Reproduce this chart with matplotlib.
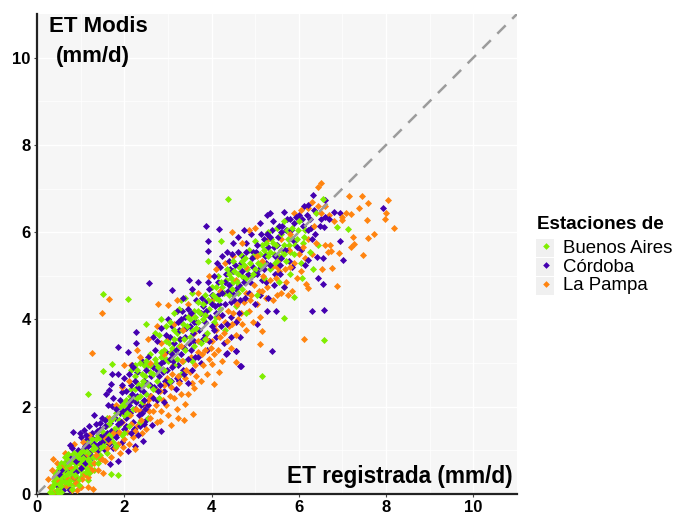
import matplotlib
matplotlib.use('Agg')
import matplotlib.pyplot as plt
from matplotlib.patches import Rectangle

# (ET registrada, ET Modis), mm/d
buenos_aires = [
    (1.51,4.58),(2.09,4.47),(1.18,2.30),(1.73,2.99),(1.51,2.81),(5.16,2.71),(1.86,.44),(1.69,.45),(1.18,.31),(2.50,3.89),
    (4.37,6.77),(5.67,4.04),(6.57,3.52),(3.91,5.34),(4.21,5.79),(7.12,6.07),(6.87,6.13),(6.32,5.15),(6.08,4.95),(5.89,4.51),
    (5.65,4.75),(6.45,5.71),(.30,.05),(.35,.15),(.40,.30),(.45,.10),(.50,.22),(.52,.40),(.55,.05),(.58,.30),
    (.60,.52),(.62,.15),(.65,.38),(.68,.62),(.70,.25),(.72,.48),(.75,.10),(.78,.35),(.80,.58),(.82,.75),
    (.85,.22),(.88,.44),(.90,.68),(.92,.88),(.95,.32),(.98,.55),(1.00,.78),(1.02,.98),(1.05,.45),(1.08,.65),
    (1.10,.85),(1.12,1.08),(1.15,.58),(1.20,.75),(.55,.70),(.48,.55),(.42,.48),(.65,.85),(.75,.70),(.85,.95),
    (1.25,1.00),(1.30,.55),(1.35,1.25),(1.40,.70),(1.45,1.05),(1.50,1.45),(1.55,1.20),(1.60,.95),(1.65,1.60),(1.70,1.30),
    (1.75,1.75),(1.80,1.10),(1.85,1.55),(1.90,2.00),(1.95,1.35),(2.00,1.80),(2.05,2.15),(2.10,1.55),(2.15,2.40),(2.20,1.95),
    (2.25,2.70),(2.30,2.20),(2.35,1.65),(2.40,2.50),(2.45,2.95),(2.50,2.30),(2.55,1.75),(2.60,2.80),(2.65,2.40),(2.70,3.10),
    (2.15,2.85),(2.25,2.95),(2.30,2.85),(2.35,3.00),(2.40,2.75),(2.50,3.05),(2.55,2.95),(2.60,3.20),(2.75,2.60),(2.80,2.20),
    (2.85,3.25),(2.90,2.85),(2.95,3.50),(3.00,3.05),(3.05,2.60),(3.10,3.35),(3.15,3.75),(3.20,3.10),(3.25,3.55),(3.30,2.75),
    (3.35,3.90),(3.40,3.30),(3.45,4.05),(3.50,3.60),(3.55,3.05),(3.60,4.20),(3.65,3.80),(3.70,4.40),(3.75,3.45),(3.80,4.00),
    (2.80,3.65),(2.70,3.70),(2.95,3.85),(3.05,3.95),(2.85,4.00),(3.15,4.15),(3.25,4.25),(3.30,4.45),(3.40,4.50),(3.55,4.60),
    (3.85,4.55),(3.90,3.70),(3.95,4.25),(4.00,4.75),(4.05,3.95),(4.10,4.50),(4.15,5.00),(4.20,4.25),(4.25,4.75),(4.30,3.75),
    (4.35,5.15),(4.40,4.55),(4.45,4.95),(4.50,5.35),(4.55,4.30),(4.60,5.05),(4.65,5.50),(4.70,4.70),(4.75,5.25),(4.80,4.15),
    (4.85,5.60),(4.90,5.00),(4.95,5.45),(5.00,5.80),(5.05,4.55),(5.10,5.25),(5.15,5.70),(5.20,4.95),(5.25,5.50),(5.30,6.00),
    (5.35,5.15),(5.40,5.75),(5.45,5.30),(5.50,6.10),(5.55,4.85),(5.60,5.60),(5.65,6.25),(5.70,5.35),(5.75,5.85),(5.80,5.05),
    (5.85,6.10),(5.90,5.50),(5.95,5.85),(6.00,6.25),(6.05,5.30),(6.10,5.75),(6.15,6.05),(6.25,5.55),(6.40,6.45),(6.55,6.75),
    (4.50,4.85),(4.60,4.60),(4.80,4.95),(4.70,5.35),(5.00,5.15),(5.20,5.60),(5.35,5.55),(5.50,5.35),(5.65,5.70),(5.80,5.55),
    (3.70,3.95),(3.85,3.55),(4.10,4.05),(3.60,3.40),(3.35,3.05),(3.15,2.95),(2.40,2.10),(2.00,1.40),(1.75,1.20),(1.60,1.75),
    (.38,.22),(.44,.42),(.50,.62),(.56,.18),(.60,.40),(.66,.55),(.70,.78),(.74,.30),(.78,.50),(.82,.92),
    (.86,.62),(.90,.40),(.94,.74),(.98,.95),(1.02,.62),(1.06,.82),(1.10,1.02),(1.14,.72),(1.18,.95),(1.22,1.15),
    (1.28,1.10),(1.34,1.05),(1.40,1.35),(1.46,1.25),(1.52,1.10),(1.58,1.55),(1.64,1.35),(1.70,1.70),(1.76,1.50),(1.82,1.85),
    (1.88,1.70),(1.94,2.10),(2.00,2.05),(2.06,1.85),(2.12,2.25),(2.18,2.15),(2.24,2.40),(2.30,2.55),(2.36,2.25),(2.42,2.60),
    (2.48,2.70),(2.54,2.50),(2.60,2.95),(2.66,2.75),(2.72,3.00),(2.78,2.90),(2.84,3.15),(2.90,3.30),(2.96,3.10),(3.02,3.45),
    (3.08,3.25),(3.14,3.55),(3.20,3.70),(3.26,3.40),(3.32,3.75),(3.38,3.55),(3.44,3.85),(3.50,4.00),(3.56,3.75),(3.62,4.05),
    (3.68,4.20),(3.74,4.15),(3.80,4.35),(3.86,4.10),(3.92,4.45),(3.98,4.40),(4.04,4.55),(4.10,4.75),(4.16,4.45),(4.22,4.85),
    (4.28,4.60),(4.34,4.90),(4.40,5.05),(4.46,4.70),(4.52,5.10),(4.58,4.85),(4.64,5.20),(4.70,5.00),(4.76,5.40),(4.82,5.15),
    (4.88,5.30),(4.94,5.05),(5.00,5.45),(5.06,5.30),(5.12,5.50),(5.18,5.30),(5.24,5.75),(5.30,5.45),(5.36,5.85),(5.42,5.50),
    (5.48,5.70),(5.54,5.45),(5.60,5.95),(5.66,5.50),(5.72,6.05),(5.78,5.70),(5.84,5.85),(5.92,5.70),(5.98,6.05),(6.12,5.90),
    (.46,.30),(.54,.48),(.58,.12),(.64,.28),(.68,.45),(.72,.68),(.76,.22),(.80,.42),(.84,.82),(.88,.30),
    (.92,.52),(.96,.20),(1.00,.38),(1.04,.72),(1.08,.92),(1.12,.50),(1.16,.80),(1.20,.48),(1.24,.68),(1.28,.85),
    (.62,.70),(.70,.92),(.80,.12),(.95,.85),(1.15,1.18),(1.25,1.25),(1.35,.85),(1.45,.90),(.34,.02),(.48,.02),
]

cordoba = [
    (2.57,4.84),(3.10,4.67),(2.26,3.72),(2.28,3.47),(1.85,3.38),(2.09,3.26),(2.17,2.95),(1.85,2.76),(1.73,2.74),(1.69,2.52),
    (1.66,2.38),(1.59,2.29),(1.94,2.34),(1.62,2.04),(1.71,2.02),(1.31,1.82),(1.44,1.62),(.83,1.43),(.98,1.40),(1.08,1.47),
    (2.84,1.44),(2.64,1.58),(2.43,1.22),(2.32,1.35),(2.08,.99),(1.86,.75),(1.67,.68),(.76,.09),(.76,1.12),(4.34,3.21),
    (4.55,3.27),(4.66,2.94),(4.65,3.60),(5.05,3.89),(4.44,3.60),(6.32,6.85),(6.61,6.73),(7.94,6.55),(3.88,6.14),(4.17,6.08),
    (3.91,5.80),(3.93,5.58),(6.94,5.80),(7.01,5.37),(6.45,4.96),(6.56,4.82),(6.30,4.20),(6.58,4.21),(5.47,4.20),(5.27,4.20),
    (5.38,3.28),(4.68,2.93),(4.56,3.28),(4.35,3.23),(3.48,4.90),(5.27,6.40),(5.34,6.45),(5.66,6.46),(6.11,6.61),(6.21,6.63),
    (6.95,6.44),(6.80,6.47),(6.57,6.11),(6.22,6.05),(6.41,5.43),(6.20,5.37),(.45,.20),(.60,.35),(.70,.50),(.55,.55),
    (.85,.40),(.90,.75),(.75,.85),(.65,.70),(.95,1.00),(.80,1.05),(1.05,.85),(1.10,1.10),(1.15,1.25),(1.00,1.30),
    (1.20,.95),(1.25,1.40),(1.30,1.15),(1.35,1.05),(1.40,1.30),(1.45,1.50),(1.50,1.20),(1.55,1.70),(1.60,1.40),(1.35,1.60),
    (1.50,1.75),(1.65,1.15),(1.70,1.45),(1.75,1.05),(1.80,1.30),(1.85,1.60),(1.90,1.85),(1.95,1.20),(2.00,1.50),(2.05,1.75),
    (2.10,2.05),(2.15,1.40),(2.20,1.65),(2.25,1.95),(2.30,2.25),(2.35,1.55),(2.40,1.85),(2.45,2.15),(2.50,1.70),(2.55,2.05),
    (1.75,2.20),(1.80,1.95),(1.90,2.15),(1.95,2.50),(2.00,2.65),(2.05,2.35),(2.10,2.75),(2.15,2.50),(2.20,2.90),(2.25,2.60),
    (2.30,2.80),(2.35,2.40),(2.40,3.05),(2.45,2.60),(2.50,2.85),(2.55,3.15),(2.60,2.50),(2.65,2.90),(2.70,3.30),(2.75,2.15),
    (2.80,2.70),(2.85,3.00),(2.90,2.35),(2.95,3.25),(3.00,2.55),(3.05,3.60),(3.10,2.90),(3.15,3.45),(3.20,2.65),(3.25,3.75),
    (2.65,3.60),(2.75,3.50),(2.85,3.80),(2.95,3.65),(3.00,4.00),(3.10,3.85),(3.20,4.20),(3.30,4.00),(3.35,4.50),(3.45,4.25),
    (3.30,3.20),(3.35,2.85),(3.40,3.60),(3.45,3.10),(3.50,3.85),(3.55,2.85),(3.60,3.50),(3.65,4.45),(3.70,3.15),(3.75,4.15),
    (3.55,4.70),(3.70,4.85),(3.80,3.55),(3.85,4.40),(3.90,3.30),(3.95,4.70),(4.00,3.85),(4.05,5.00),(4.10,3.60),(4.15,4.55),
    (4.20,5.20),(4.25,4.10),(4.30,4.85),(4.35,3.90),(4.40,5.35),(4.45,4.40),(4.50,5.10),(4.55,3.95),(4.60,5.55),(4.65,4.45),
    (4.25,5.45),(4.35,5.55),(4.50,5.75),(4.60,5.90),(4.75,6.05),(4.70,5.10),(4.80,5.75),(4.85,4.60),(4.90,5.95),(4.95,5.20),
    (5.00,4.35),(5.05,5.70),(5.10,6.20),(5.15,4.90),(5.20,5.85),(5.25,5.30),(5.30,4.50),(5.35,5.90),(5.40,6.25),(5.45,5.05),
    (5.50,5.70),(5.55,6.15),(5.60,5.40),(5.65,4.75),(5.70,6.05),(5.75,5.60),(5.80,6.30),(5.85,5.20),(5.90,6.20),(5.95,5.65),
    (6.00,6.40),(6.05,5.60),(6.10,6.15),(6.15,5.25),(6.25,6.30),(6.30,5.85),(6.35,6.50),(6.50,6.30),(6.55,5.40),(6.70,6.30),
    (3.40,4.05),(3.10,3.20),(2.90,3.05),(3.60,3.95),(3.80,4.30),(4.00,4.35),(4.10,4.15),(4.30,4.35),(4.55,4.70),(4.75,4.85),
    (5.05,5.05),(5.20,5.15),(5.45,5.45),(5.60,6.00),(5.30,5.65),(4.95,5.55),(4.70,5.45),(4.40,4.80),(1.10,.70),(.90,.50),
    (.70,.15),(1.25,.85),(1.40,1.00),(.60,.10),(.50,.45),(1.00,.60),(1.20,1.55),(1.55,1.00),(2.25,1.10),(2.45,1.60),
    (1.12,1.35),(1.18,1.10),(1.28,1.25),(1.38,1.45),(1.42,1.15),(1.48,1.35),(1.56,1.55),(1.62,1.25),(1.68,1.62),(1.78,1.75),
    (1.84,1.40),(1.92,1.65),(1.98,1.90),(2.04,1.55),(2.12,1.85),(2.18,2.30),(2.26,2.10),(2.32,2.45),(2.38,2.05),(2.44,2.35),
    (2.52,2.55),(2.58,2.25),(2.62,2.70),(2.68,2.45),(2.74,2.85),(2.82,2.50),(2.88,2.80),(2.94,2.60),(2.98,2.85),(3.04,3.10),
    (3.12,3.05),(3.18,3.30),(3.24,2.95),(3.28,3.55),(3.36,3.35),(3.42,3.80),(3.48,3.45),(3.52,4.15),(3.58,3.70),(3.64,3.95),
    (3.72,3.75),(3.78,4.50),(3.84,3.95),(3.88,4.20),(3.96,4.05),(4.02,4.55),(4.08,4.30),(4.14,4.85),(4.18,4.35),(4.24,4.60),
    (4.32,5.05),(4.38,4.65),(4.42,5.15),(4.48,4.60),(4.54,5.25),(4.62,4.80),(4.68,5.30),(4.74,4.95),(4.78,5.55),(4.84,5.05),
    (4.92,5.40),(4.98,5.05),(5.02,5.55),(5.08,5.15),(5.14,5.95),(5.22,5.45),(5.28,5.95),(5.34,5.25),(5.38,6.05),(5.44,5.65),
    (5.52,5.90),(5.58,5.25),(5.62,6.15),(5.68,5.60),(5.72,6.30),(5.78,5.35),(5.82,6.05),(5.88,5.80),(5.94,6.35),(6.08,6.30),
    (6.18,6.40),(6.28,6.10),(6.38,5.95),(6.48,6.15),(6.60,6.35),(3.22,3.95),(3.32,4.20),(3.92,4.85),(4.12,5.30),(4.48,5.50),
    (2.06,1.95),(2.16,2.15),(2.22,1.50),(2.34,1.80),(2.48,1.95),(2.66,2.20),(2.78,2.35),(2.92,2.10),(3.08,2.60),(3.18,2.40),
    (3.26,2.60),(3.38,2.75),(3.46,2.55),(3.54,3.30),(3.62,3.15),(3.76,3.00),(3.86,3.65),(3.94,3.50),(4.06,3.75),(4.22,3.85),
    (4.28,3.45),(4.44,4.05),(4.52,4.45),(4.64,4.15),(4.76,4.50),(4.88,4.85),(5.12,4.55),(5.24,4.85),(5.42,4.80),(5.56,5.05),
]

la_pampa = [
    (1.64,4.48),(1.50,4.15),(1.26,3.24),(.37,.81),(2.78,4.35),(3.00,4.32),(3.08,1.57),(3.24,1.75),(3.37,1.69),(3.58,1.83),
    (3.39,2.06),(3.60,2.44),(4.05,2.51),(4.18,2.79),(4.02,2.99),(4.57,3.02),(5.12,3.43),(5.16,3.74),(4.80,3.76),(1.52,.47),
    (1.29,.11),(1.18,.16),(2.83,1.67),(2.25,1.03),(6.51,7.12),(6.45,7.03),(7.16,6.83),(7.44,6.83),(7.58,6.67),(8.04,6.73),
    (7.37,6.55),(8.00,6.44),(7.97,6.31),(7.56,6.28),(8.17,6.10),(7.72,5.95),(7.58,5.86),(7.24,5.90),(7.27,5.72),(7.20,5.65),
    (7.48,5.48),(6.92,5.52),(6.77,5.18),(6.53,5.15),(6.88,4.77),(6.22,4.72),(6.17,4.82),(6.13,3.55),(4.46,6.01),(7.07,6.45),
    (7.20,6.42),(7.00,6.27),(6.98,6.35),(6.60,5.70),(6.72,5.70),(6.74,5.57),(6.68,5.54),(.25,.35),(.30,.15),(.35,.55),
    (.40,.05),(.50,.30),(.60,.15),(.70,.35),(.80,.10),(.90,.25),(1.00,.15),(1.10,.45),(1.20,.60),(1.30,.70),
    (1.40,.55),(1.50,.80),(.45,.70),(.65,.95),(.85,1.15),(1.05,1.20),(1.20,1.35),(1.35,.90),(1.45,1.15),(1.55,.75),
    (1.60,1.05),(1.70,.85),(1.75,1.40),(1.85,1.15),(1.90,.95),(1.95,1.65),(2.00,1.25),(2.10,1.15),(2.15,1.60),(2.20,1.30),
    (2.30,1.55),(2.35,1.90),(2.40,1.40),(2.50,1.50),(2.55,2.15),(2.60,1.75),(2.65,1.90),(2.70,2.40),(2.75,1.65),(2.85,1.90),
    (2.90,2.50),(2.95,2.05),(3.00,1.80),(3.05,2.25),(3.10,2.75),(3.15,2.20),(3.20,1.95),(3.25,2.55),(3.30,2.30),(3.40,2.65),
    (3.45,2.30),(3.50,2.80),(3.55,2.55),(3.65,2.70),(3.70,3.25),(3.75,2.60),(3.80,2.95),(3.85,3.30),(3.90,2.75),(3.95,3.10),
    (4.00,3.50),(4.05,3.20),(4.10,3.75),(4.15,3.30),(4.20,3.60),(4.25,3.05),(4.30,3.95),(4.35,3.50),(4.40,3.85),(4.45,3.35),
    (4.50,4.15),(4.55,3.65),(4.60,4.00),(4.70,3.90),(4.75,4.40),(4.85,4.20),(4.90,4.55),(4.95,3.95),(5.05,4.35),(5.10,4.05),
    (5.15,4.65),(5.25,4.50),(5.35,4.90),(5.40,4.45),(5.50,4.55),(5.55,5.10),(5.60,4.60),(5.70,4.85),(5.75,4.55),(5.80,5.20),
    (5.85,4.65),(5.90,5.30),(5.95,4.95),(6.00,5.50),(6.05,5.10),(6.10,5.65),(6.15,5.40),(6.20,5.85),(6.30,5.50),(6.35,6.15),
    (6.40,5.75),(6.50,6.45),(6.60,6.60),(6.70,6.40),(6.80,6.25),(6.30,6.70),(6.20,6.55),(6.05,6.50),(5.90,6.45),(6.45,6.60),
    (1.65,1.75),(1.80,2.05),(1.95,2.45),(2.10,2.60),(2.15,2.95),(2.00,2.95),(2.30,3.30),(2.35,3.15),(2.55,3.55),(2.60,3.00),
    (2.75,3.85),(2.85,3.45),(3.00,3.60),(3.15,3.90),(3.20,4.45),(3.35,3.75),(3.45,4.35),(3.50,4.10),(3.70,4.60),(3.85,4.10),
    (3.95,5.00),(4.10,5.15),(4.30,5.30),(4.50,5.45),(4.70,5.75),(4.85,6.05),(5.00,6.10),(5.15,5.35),(5.30,5.85),(5.50,5.20),
    (5.60,5.85),(5.80,5.95),(2.90,3.20),(3.30,3.40),(3.60,3.70),(4.00,4.45),(4.20,4.65),(4.55,4.90),(4.80,5.20),(5.05,5.45),
    (.42,.42),(.52,.10),(.58,.62),(.68,.20),(.76,.62),(.84,.38),(.92,.10),(.96,.70),(1.04,.35),(1.12,.85),
    (1.16,.38),(1.26,.55),(1.32,1.00),(1.44,.80),(1.54,1.30),(1.66,1.20),(1.78,1.05),(1.88,1.42),(1.98,1.08),(2.06,1.42),
    (2.14,1.80),(2.24,1.45),(2.28,1.95),(2.38,1.70),(2.46,2.05),(2.56,1.90),(2.62,2.25),(2.72,2.05),(2.82,2.35),(2.88,2.15),
    (2.98,2.65),(3.06,2.45),(3.12,2.95),(3.22,2.70),(3.32,3.05),(3.42,2.85),(3.52,3.15),(3.62,2.95),(3.68,3.50),(3.78,3.20),
    (3.88,3.55),(3.98,3.35),(4.08,3.90),(4.18,4.05),(4.28,3.70),(4.38,4.20),(4.48,3.90),(4.58,4.35),(4.68,4.15),(4.78,4.60),
    (4.88,4.45),(4.98,4.80),(5.08,4.65),(5.18,5.00),(5.28,4.75),(5.38,5.20),(5.48,4.95),(5.58,5.40),(5.68,5.15),(5.78,5.60),
]

station_names = ['Buenos Aires', 'Córdoba', 'La Pampa']
station_colors = ['#80ee00', '#4400b0', '#ff8410']
stations = [buenos_aires, cordoba, la_pampa]

ticks = [0, 2, 4, 6, 8, 10]
minor_ticks = [1, 3, 5, 7, 9]
axis_max = 11

plt.rcParams['font.family'] = ['Liberation Sans', 'DejaVu Sans']

fig = plt.figure(figsize=(6.74, 5.15), dpi=100)
ax = fig.add_axes([37 / 674, 1 - 494 / 515, 480 / 674, 480 / 515])
ax.set_facecolor('#f6f6f6')

# chunks so that no station sits fully on top of the others
order = [2, 1, 0]
for chunk in range(6):
    for i in order:
        pts = stations[i][chunk::6]
        ax.scatter([p[0] for p in pts], [p[1] for p in pts], s=13, marker='D',
                   color=station_colors[i], linewidths=0, zorder=3)

ax.plot([0, axis_max], [0, axis_max], color='#9c9c9c', lw=1.8, dashes=(4.7, 3.7), zorder=4)

ax.set_xlim(0, axis_max)
ax.set_ylim(0, axis_max)
ax.set_xticks(ticks)
ax.set_yticks(ticks)
ax.set_xticks(minor_ticks, minor=True)
ax.set_yticks(minor_ticks, minor=True)
ax.grid(which='major', color='white', lw=1, zorder=1)
ax.grid(which='minor', color='white', lw=0.5, zorder=1)
ax.set_axisbelow(True)
ax.tick_params(which='minor', length=0)
ax.tick_params(which='major', length=2.5, width=0.8, pad=2, labelsize=12, color='#444444')
for lab in ax.get_xticklabels() + ax.get_yticklabels():
    lab.set_fontweight('bold')
for s in ['top', 'right']:
    ax.spines[s].set_visible(False)
for s in ['left', 'bottom']:
    ax.spines[s].set_linewidth(1.6)
    ax.spines[s].set_color('#222222')

ax.text(0.28, 10.72, 'ET Modis', fontsize=16, fontweight='bold', va='center')
ax.text(0.43, 10.02, '(mm/d)', fontsize=16, fontweight='bold', va='center')
ax.text(10.9, 0.41, 'ET registrada (mm/d)', fontsize=16.3, fontweight='bold', va='center', ha='right')

# grey key boxes behind the legend
for top in [239, 258, 277]:
    fig.add_artist(Rectangle((536 / 674, 1 - (top + 18) / 515), 18 / 674, 18 / 515,
                             transform=fig.transFigure, color='#f0f0f0', lw=0))

handles = [plt.Line2D([], [], ls='', marker='D', ms=3.4, mew=0, color=c) for c in station_colors]
leg = fig.legend(handles, station_names, title='Estaciones de', frameon=False, fontsize=13.4,
                 title_fontproperties={'weight': 'bold', 'size': 13.6},
                 loc='upper left', bbox_to_anchor=(533 / 674, 1 - 212 / 515), borderaxespad=0,
                 labelspacing=0.1, handletextpad=0.45, handlelength=0.95, borderpad=0.2)
leg._legend_box.align = 'left'
leg._legend_box.sep = 5

fig.savefig('out.png', dpi=100)
